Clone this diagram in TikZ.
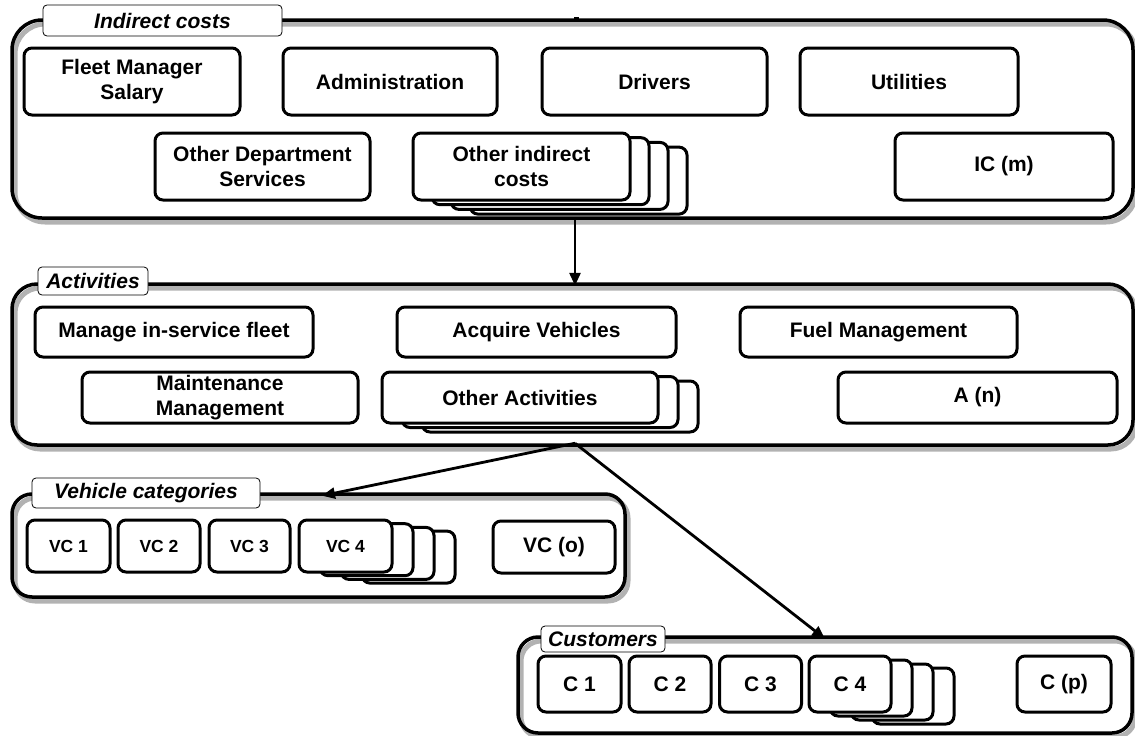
\documentclass[tikz,border=0pt]{standalone}
\usepackage{fontspec}
\setmainfont{Liberation Sans}
\usetikzlibrary{arrows.meta}
\begin{document}
\begin{tikzpicture}[x=1pt,y=-1pt,
  ibox/.style={draw, line width=3pt, rounded corners=8pt, fill=white, inner sep=0pt, align=center,
    font=\fontsize{21}{25.5}\selectfont\bfseries},
  smallbox/.style={ibox, font=\fontsize{17.5}{20}\selectfont\bfseries},
  cont/.style={draw=none, inner sep=0pt, outer sep=0pt},
  contshadow/.style={draw=gray!60, line width=5pt},
  contline/.style={draw=black, line width=3.5pt},
  lbl/.style={draw, line width=0.8pt, rounded corners=4pt, fill=white, inner sep=0pt,
    font=\fontsize{21}{24}\selectfont\bfseries\itshape},
  arr/.style={line width=2.8pt, -{Triangle[length=13pt,width=11pt]}}
]
\useasboundingbox (0,0) rectangle (1135,736);

% ---------- containers ----------
\node[cont, minimum width=1121, minimum height=198] (ic) at (572.5,119) {};
\node[cont, minimum width=1121, minimum height=161] (act) at (572.5,364.5) {};
\node[cont, minimum width=613, minimum height=103] (vc) at (318.5,545.5) {};
\node[cont, minimum width=614, minimum height=96] (cust) at (825,685) {};
\draw[contshadow, rounded corners=30pt] ([shift={(3,4)}]ic.north west) rectangle ([shift={(3,4)}]ic.south east);
\draw[contshadow, rounded corners=25pt] ([shift={(3,4)}]act.north west) rectangle ([shift={(3,4)}]act.south east);
\draw[contshadow, rounded corners=20pt] ([shift={(3,4)}]vc.north west) rectangle ([shift={(3,4)}]vc.south east);
\draw[contshadow, rounded corners=20pt] ([shift={(3,4)}]cust.north west) rectangle ([shift={(3,4)}]cust.south east);
\draw[contline, rounded corners=30pt] (ic.north west) rectangle (ic.south east);
\draw[contline, rounded corners=25pt] (act.north west) rectangle (act.south east);
\draw[contline, rounded corners=20pt] (vc.north west) rectangle (vc.south east);
\draw[contline, rounded corners=20pt] (cust.north west) rectangle (cust.south east);
\fill (574,16.5) rectangle (579,20.5);

% ---------- Indirect costs ----------
\node[lbl, minimum width=239, minimum height=31] (iclbl) at (162.5,20.5) {Indirect costs};
\node[ibox, minimum width=216, minimum height=67] (fms) at (132,81.5) {Fleet Manager\\Salary};
\node[ibox, minimum width=214, minimum height=67] (adm) at (390,81.5) {Administration};
\node[ibox, minimum width=225, minimum height=67] (drv) at (654.5,81.5) {Drivers};
\node[ibox, minimum width=218, minimum height=67] (utl) at (909,81.5) {Utilities};
\node[ibox, minimum width=215, minimum height=67] (ods) at (262.5,166.5) {Other Department\\Services};
\node[ibox, minimum width=217, minimum height=67] (oic3) at (578.5,180.6) {};
\node[ibox, minimum width=217, minimum height=67] (oic2) at (559.5,175.9) {};
\node[ibox, minimum width=217, minimum height=67] (oic1) at (540.5,171.2) {};
\node[ibox, minimum width=217, minimum height=67] (oic) at (521.5,166.5) {Other indirect\\costs};
\node[ibox, minimum width=218, minimum height=67] (icm) at (1004,166.5) {IC (m)};

% ---------- Activities ----------
\node[lbl, minimum width=110, minimum height=28] (actlbl) at (93,281) {Activities};
\node[ibox, minimum width=278, minimum height=50] (mif) at (174,332) {Manage in-service fleet};
\node[ibox, minimum width=279, minimum height=50] (acq) at (536.5,332) {Acquire Vehicles};
\node[ibox, minimum width=277, minimum height=50] (fuel) at (878.5,332) {Fuel Management};
\node[ibox, minimum width=276, minimum height=51] (mm) at (220,397.5) {Maintenance\\Management};
\node[ibox, minimum width=276, minimum height=51] (oa2) at (560,406.5) {};
\node[ibox, minimum width=276, minimum height=51] (oa1) at (540,402) {};
\node[ibox, minimum width=276, minimum height=51] (oa) at (520,397.5) {Other Activities};
\node[ibox, minimum width=279, minimum height=51] (an) at (977.5,397.5) {A (n)};

% ---------- Vehicle categories ----------
\node[lbl, minimum width=228, minimum height=30] (vclbl) at (146,493) {Vehicle categories};
\node[smallbox, minimum width=83, minimum height=52] (vc1) at (68.5,546) {VC 1};
\node[smallbox, minimum width=82, minimum height=52] (vc2) at (159,546) {VC 2};
\node[smallbox, minimum width=81, minimum height=52] (vc3) at (249.5,546) {VC 3};
\node[smallbox, minimum width=93, minimum height=52] (vc4c) at (408.5,557.1) {};
\node[smallbox, minimum width=93, minimum height=52] (vc4b) at (387.5,553.4) {};
\node[smallbox, minimum width=93, minimum height=52] (vc4a) at (366.5,549.7) {};
\node[smallbox, minimum width=93, minimum height=52] (vc4) at (345.5,546) {VC 4};
\node[ibox, minimum width=122, minimum height=52] (vco) at (554,547) {VC (o)};

% ---------- Customers ----------
\node[lbl, minimum width=124, minimum height=26] (custlbl) at (603,639) {Customers};
\node[ibox, minimum width=83, minimum height=56] (c1) at (579.5,684) {C 1};
\node[ibox, minimum width=82, minimum height=56] (c2) at (670,684) {C 2};
\node[ibox, minimum width=82, minimum height=56] (c3) at (760.5,684) {C 3};
\node[ibox, minimum width=82, minimum height=56] (c4c) at (913,696) {};
\node[ibox, minimum width=82, minimum height=56] (c4b) at (892,692) {};
\node[ibox, minimum width=82, minimum height=56] (c4a) at (871,688) {};
\node[ibox, minimum width=82, minimum height=56] (c4) at (850,684) {C 4};
\node[ibox, minimum width=94, minimum height=56] (cp) at (1064,684) {C (p)};

% ---------- Arrows ----------
\draw[arr] ([xshift=2.5pt,yshift=-1.75pt]ic.south) -- ([xshift=2.5pt,yshift=-1.75pt]act.north);
\draw[arr] ([xshift=2.5pt,yshift=1.75pt]act.south) -- ([xshift=3.5pt,yshift=-1.75pt]vc.north);
\draw[arr] ([xshift=2.5pt,yshift=1.75pt]act.south) -- ([yshift=-1.75pt]cust.north);
\end{tikzpicture}
\end{document}
